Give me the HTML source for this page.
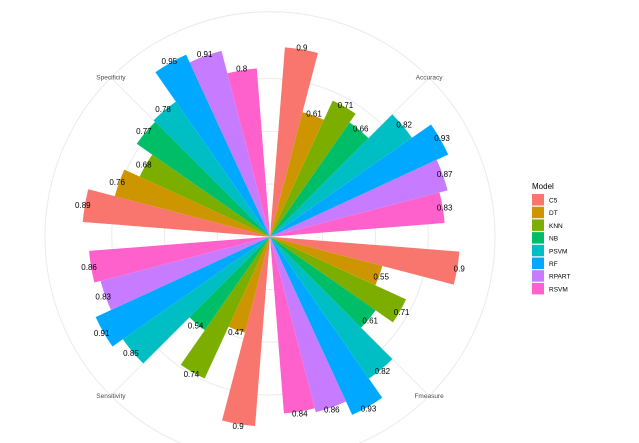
<!DOCTYPE html>
<html><head><meta charset="utf-8"><style>
html,body{margin:0;padding:0;background:#fff;}
svg{display:block;font-family:"Liberation Sans",sans-serif;}
</style></head><body>
<svg id="chart" width="639" height="443" viewBox="0 0 639 443">
<g id="grid"></g>
<g id="bars"></g>
<g id="labels"></g>
<g id="axis"></g>
<g id="legend"></g>
</svg>
<script>
const metrics = ["Accuracy","Fmeasure","Sensitivity","Specificity"];
const models = ["C5","DT","KNN","NB","PSVM","RF","RPART","RSVM"];
const accuracy = [0.9,0.61,0.71,0.66,0.82,0.93,0.87,0.83];
const fmeasure = [0.9,0.55,0.71,0.61,0.82,0.93,0.86,0.84];
const sensitivity = [0.9,0.47,0.74,0.54,0.85,0.91,0.83,0.86];
const specificity = [0.89,0.76,0.68,0.77,0.78,0.95,0.91,0.8];
const gridTicks = [0.25,0.5,0.75];
const colors = ["#F8766D","#CD9600","#7CAE00","#00BE67","#00BFC4","#00A9FF","#C77CFF","#FF61CC"];

const series = [accuracy,fmeasure,sensitivity,specificity];
const cx=270, cy=236.7, unit=211, outerR=225;
const NS="http://www.w3.org/2000/svg";
function rScale(v){return v*unit;}
function pt(r,deg){const a=deg*Math.PI/180;return [cx+r*Math.sin(a), cy-r*Math.cos(a)];}
function mk(tag,attrs,parent){const e=document.createElementNS(NS,tag);for(const k in attrs)e.setAttribute(k,attrs[k]);parent.appendChild(e);return e;}
const grid=document.getElementById('grid');
let c=mk('circle',{cx:cx,cy:cy,r:outerR,fill:'none',stroke:'#ebebeb','stroke-width':1},grid);


gridTicks.forEach(t=>{
  const g=mk('circle',{cx:cx,cy:cy,r:rScale(t),fill:'none',stroke:'#ebebeb','stroke-width':1},grid);
  
  
});
metrics.forEach((m,i)=>{
  const p=pt(outerR,45+90*i);
  const l=mk('line',{x1:cx,y1:cy,x2:p[0],y2:p[1],stroke:'#ebebeb','stroke-width':1},grid);
  
  
});
const bars=document.getElementById('bars'), labels=document.getElementById('labels'), axis=document.getElementById('axis');
const bw=90*0.9/models.length;
metrics.forEach((m,i)=>{
  const center=45+90*i;
  const start=center-45*0.9;
  series[i].forEach((v,j)=>{
    const a0=start+j*bw, a1=a0+bw, r=rScale(v);
    const p0=pt(r,a0), p1=pt(r,a1);
    const path=mk('path',{d:`M${cx},${cy}L${p0[0]},${p0[1]}A${r},${r} 0 0 1 ${p1[0]},${p1[1]}Z`,fill:colors[j]},bars);
    
    
    const lp=pt(r+2,a0+bw/2);
    const t=mk('text',{x:lp[0],y:lp[1]+3,'text-anchor':'middle','font-size':8,fill:'#000'},labels);
    t.textContent=String(v);
    
    
  });
  const ap=pt(outerR,center);
  const at=mk('text',{x:ap[0],y:ap[1]+2,'text-anchor':'middle','font-size':6.5,fill:'#4d4d4d'},axis);
  at.textContent=m;
  
  
});
const leg=document.getElementById('legend');
const tt=mk('text',{x:532,y:189,'font-size':8,fill:'#000'},leg);
tt.textContent='Model';


models.forEach((m,j)=>{
  const y=194+j*12.7;
  const r=mk('rect',{x:532,y:y,width:12,height:11.5,fill:colors[j]},leg);
  
  
  const t=mk('text',{x:549,y:y+8.5,'font-size':6.5,fill:'#000'},leg);
  t.textContent=m;
  
  
});
</script>
</body></html>
